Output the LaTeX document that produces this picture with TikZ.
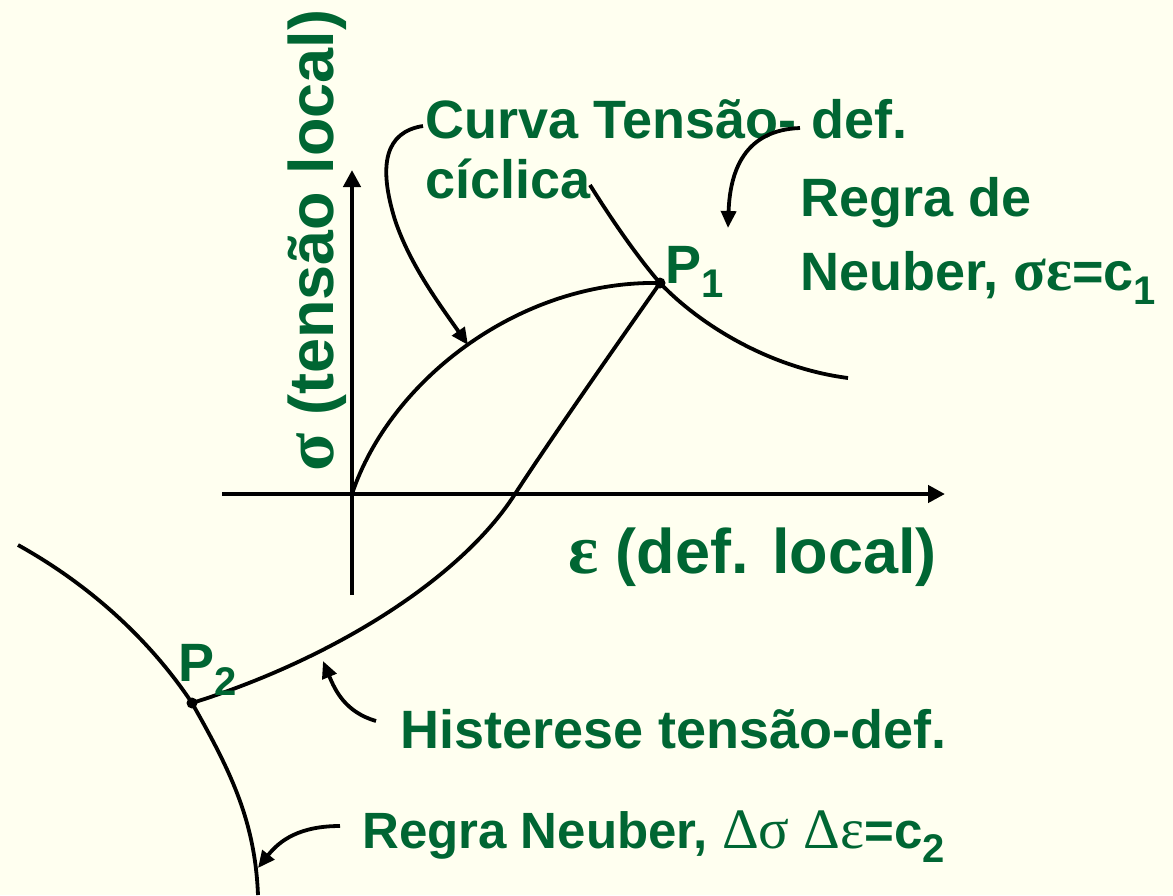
\documentclass[tikz,border=0pt]{standalone}
\usepackage{fontspec}
\setmainfont{Liberation Sans}
\newfontfamily\grk[Scale=1.12]{Liberation Serif}
\usetikzlibrary{arrows.meta}
\definecolor{bg}{HTML}{FFFFF0}
\definecolor{txt}{HTML}{006633}
\tikzset{
  lbl/.style={inner sep=0pt, anchor=base west, text=txt, font=\fontsize{54}{60}\selectfont\bfseries},
  biglbl/.style={lbl, font=\fontsize{63}{70}\selectfont\bfseries},
  curve/.style={line width=3.8pt, black},
  pointer/.style={line width=3.8pt, black, -{Triangle[length=17pt,width=15pt]}},
  axis/.style={line width=4.6pt, black, -{Triangle[length=17pt,width=17pt]}},
  dot/.style={circle, fill=black, inner sep=0pt, minimum size=11pt}
}
\newcommand{\sub}[1]{\raisebox{-14pt}{\fontsize{40}{40}\selectfont #1}}
\begin{document}
\begin{tikzpicture}[x=1pt,y=-1pt]
\fill[bg] (0,0) rectangle (1173,895);
\useasboundingbox (0,0) rectangle (1173,895);

% axes
\coordinate (xs) at (222,494);
\coordinate (xe) at (945,494);
\coordinate (ys) at (352,595);
\coordinate (ye) at (352,170);
\coordinate (O) at (352,494);
\draw[axis] (xs) -- (xe);
\draw[axis] (ys) -- (ye);

% points
\coordinate (P1) at (660,283);
\coordinate (P2) at (192,703);
\coordinate (X) at (515,494);
\coordinate (N1a) at (590,185);
\coordinate (N1b) at (848,378);
\coordinate (N2a) at (18,545);
\coordinate (N2b) at (258,895);

% cyclic curve
\draw[curve] (O) .. controls (390,380) and (520,280) .. (P1);
% Neuber 1
\draw[curve] (N1a) .. controls (615,225) and (640,260) .. (P1)
  .. controls (700,325) and (770,368) .. (N1b);
% hysteresis
\draw[curve] (P1) .. controls (620,340) and (550,440) .. (X)
  .. controls (460,580) and (330,660) .. (P2);
% Neuber 2
\draw[curve] (N2a) .. controls (90,585) and (150,640) .. (P2)
  .. controls (230,770) and (255,820) .. (N2b);

\node[dot] (d1) at (P1) {};
\node[dot] (d2) at (P2) {};

% labels
\node[lbl] (curva) at (425,138) {Curva Tensão- def.};
\node[lbl] (ciclica) at (425,198) {cíclica};
\node[lbl] (regra) at (800,216) {Regra de};
\node[lbl] (neuber) at (800,290) {Neuber, {\grk σε}=c\sub{1}};
\node[lbl] (p1) at (665,283) {P\sub{1}};
\node[lbl] (p2) at (178,681) {P\sub{2}};
\node[biglbl] (eps) at (568,573) {{\grk ε} (def. local)};
\node[biglbl, rotate=90] (sig) at (333,472) {{\grk σ} (tensão local)};
\node[lbl] (hist) at (400,748) {Histerese tensão-def.};
\node[lbl, font=\fontsize{51}{56}\selectfont\bfseries] (neuber2) at (362,848) {Regra Neuber, {\grk\mdseries Δσ Δε}=c\sub{2}};

% pointers
\coordinate (t1) at (423,126);
\coordinate (h1) at (468,345);
\draw[pointer] (t1) .. controls (385,132) and (378,165) .. (395,220)
  .. controls (410,265) and (440,305) .. (h1);
\coordinate (t2) at (800,128);
\coordinate (h2) at (728,228);
\draw[pointer] (t2) .. controls (745,130) and (730,170) .. (h2);
\coordinate (t3) at (376,721);
\coordinate (h3) at (323,661);
\draw[pointer] (t3) .. controls (345,712) and (335,690) .. (h3);
\coordinate (t4) at (340,826);
\coordinate (h4) at (258,868);
\draw[pointer] (t4) .. controls (300,826) and (280,840) .. (h4);
\end{tikzpicture}
\end{document}
